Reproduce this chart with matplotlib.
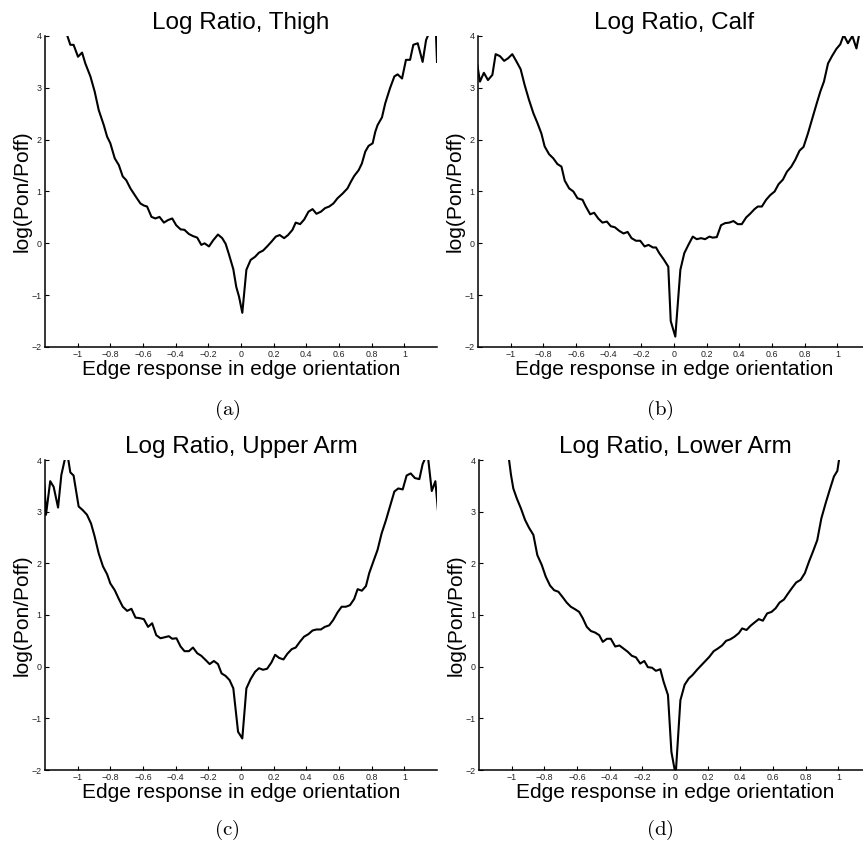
import matplotlib
matplotlib.use("Agg")
import matplotlib.pyplot as plt

plt.rcParams['font.family'] = ['Liberation Sans', 'DejaVu Sans']

titles = ["Log Ratio, Thigh", "Log Ratio, Calf", "Log Ratio, Upper Arm", "Log Ratio, Lower Arm"]
captions = ["(a)", "(b)", "(c)", "(d)"]
xlabel_text = "Edge response in edge orientation"
ylabel_text = "log(Pon/Poff)"
xticks = [-1, -0.8, -0.6, -0.4, -0.2, 0, 0.2, 0.4, 0.6, 0.8, 1]
xticklabels = ["\u22121", "\u22120.8", "\u22120.6", "\u22120.4", "\u22120.2", "0", "0.2", "0.4", "0.6", "0.8", "1"]
yticks = [-2, -1, 0, 1, 2, 3, 4]
yticklabels = ["\u22122", "\u22121", "0", "1", "2", "3", "4"]

x_thigh = [-1.085, -1.065, -1.045, -1.025, -0.998, -0.973, -0.953, -0.922, -0.896, -0.871, -0.84, -0.82, -0.80,
           -0.773, -0.748, -0.724, -0.703, -0.677, -0.646, -0.616, -0.595, -0.575, -0.548, -0.524, -0.499, -0.472,
           -0.446, -0.421, -0.397, -0.37, -0.346, -0.319, -0.294, -0.268, -0.243, -0.223, -0.196, -0.17, -0.141,
           -0.115, -0.094, -0.074, -0.047, -0.029, -0.012, 0.008, 0.033, 0.059, 0.086, 0.11, 0.135, 0.16, 0.186,
           0.213, 0.237, 0.264, 0.288, 0.315, 0.335, 0.362, 0.387, 0.413, 0.438, 0.462, 0.489, 0.515, 0.54, 0.566,
           0.591, 0.622, 0.652, 0.673, 0.693, 0.72, 0.74, 0.761, 0.781, 0.806, 0.822, 0.836, 0.863, 0.883, 0.912,
           0.939, 0.959, 0.986, 1.01, 1.035, 1.055, 1.082, 1.112, 1.133, 1.15, 1.165, 1.185, 1.2]
y_thigh = [4.3, 4.02, 3.83, 3.83, 3.60, 3.68, 3.47, 3.22, 2.93, 2.57, 2.28, 2.06, 1.93,
           1.64, 1.51, 1.29, 1.22, 1.06, 0.91, 0.77, 0.73, 0.71, 0.51, 0.48, 0.51, 0.40,
           0.45, 0.48, 0.35, 0.27, 0.26, 0.18, 0.14, 0.11, -0.03, 0.0, -0.06, 0.06, 0.17,
           0.10, -0.01, -0.21, -0.50, -0.84, -1.03, -1.34, -0.51, -0.32, -0.26, -0.18, -0.14, -0.06, 0.03,
           0.13, 0.16, 0.10, 0.16, 0.26, 0.40, 0.37, 0.46, 0.61, 0.66, 0.57, 0.61, 0.68, 0.71, 0.77,
           0.87, 0.96, 1.06, 1.19, 1.30, 1.41, 1.54, 1.77, 1.88, 1.93, 2.15, 2.28, 2.43, 2.70, 2.99,
           3.22, 3.26, 3.18, 3.54, 3.54, 3.83, 3.86, 3.50, 3.92, 4.05, 4.6, 4.8, 3.5]

x_calf = [-1.22, -1.204, -1.188, -1.164, -1.139, -1.112, -1.092, -1.065, -1.04, -1.016, -0.99, -0.963, -0.939,
          -0.914, -0.888, -0.861, -0.836, -0.812, -0.792, -0.765, -0.739, -0.714, -0.689, -0.669, -0.642, -0.616,
          -0.591, -0.56, -0.54, -0.513, -0.489, -0.464, -0.438, -0.411, -0.387, -0.362, -0.335, -0.309, -0.284,
          -0.26, -0.233, -0.207, -0.18, -0.156, -0.129, -0.11, -0.09, -0.063, -0.035, -0.02, 0.008, 0.039, 0.063,
          0.088, 0.115, 0.139, 0.166, 0.19, 0.217, 0.237, 0.262, 0.288, 0.313, 0.339, 0.364, 0.39, 0.415, 0.442,
          0.466, 0.493, 0.513, 0.538, 0.564, 0.589, 0.616, 0.64, 0.667, 0.691, 0.718, 0.742, 0.769, 0.793, 0.82,
          0.845, 0.871, 0.896, 0.918, 0.943, 0.967, 0.994, 1.018, 1.039, 1.065, 1.092, 1.117, 1.133, 1.16]
y_calf = [3.6, 3.44, 3.12, 3.29, 3.15, 3.25, 3.65, 3.61, 3.52, 3.57, 3.65, 3.50, 3.36,
          3.05, 2.77, 2.51, 2.32, 2.12, 1.87, 1.72, 1.64, 1.53, 1.48, 1.21, 1.06, 1.00,
          0.87, 0.84, 0.71, 0.56, 0.59, 0.48, 0.40, 0.42, 0.33, 0.31, 0.24, 0.19, 0.22,
          0.10, 0.05, 0.05, -0.06, -0.03, -0.08, -0.08, -0.19, -0.31, -0.45, -1.5, -1.8, -0.51, -0.19,
          -0.03, 0.13, 0.08, 0.10, 0.08, 0.13, 0.11, 0.12, 0.35, 0.39, 0.40, 0.43, 0.37, 0.37, 0.50,
          0.57, 0.66, 0.71, 0.71, 0.84, 0.93, 1.00, 1.14, 1.23, 1.38, 1.48, 1.61, 1.79, 1.86, 2.12,
          2.39, 2.67, 2.93, 3.12, 3.47, 3.61, 3.75, 3.84, 4.02, 3.86, 4.0, 3.76, 4.02, 4.3]

x_upper = [-1.215, -1.202, -1.194, -1.168, -1.147, -1.12, -1.10, -1.076, -1.062, -1.045, -1.025, -0.994, -0.969,
           -0.943, -0.918, -0.896, -0.871, -0.845, -0.82, -0.8, -0.773, -0.748, -0.724, -0.697, -0.671, -0.646,
           -0.622, -0.595, -0.569, -0.544, -0.519, -0.493, -0.466, -0.442, -0.421, -0.395, -0.37, -0.346, -0.319,
           -0.294, -0.268, -0.243, -0.217, -0.192, -0.166, -0.141, -0.119, -0.094, -0.07, -0.047, -0.018, 0.008,
           0.033, 0.059, 0.086, 0.11, 0.135, 0.16, 0.186, 0.209, 0.233, 0.26, 0.284, 0.311, 0.335, 0.36, 0.386,
           0.413, 0.438, 0.462, 0.489, 0.513, 0.54, 0.564, 0.591, 0.616, 0.642, 0.667, 0.693, 0.714, 0.74, 0.765,
           0.785, 0.812, 0.836, 0.861, 0.888, 0.912, 0.939, 0.963, 0.99, 1.014, 1.039, 1.065, 1.092, 1.112, 1.13,
           1.145, 1.168, 1.19, 1.21]
y_upper = [3.8, 3.45, 2.94, 3.59, 3.48, 3.08, 3.71, 4.05, 4.1, 3.76, 3.70, 3.10, 3.03,
           2.94, 2.77, 2.52, 2.19, 1.94, 1.79, 1.61, 1.48, 1.31, 1.16, 1.08, 1.12, 0.95,
           0.94, 0.92, 0.77, 0.84, 0.61, 0.55, 0.57, 0.59, 0.54, 0.55, 0.39, 0.30, 0.30,
           0.37, 0.26, 0.21, 0.13, 0.05, 0.11, 0.05, -0.13, -0.18, -0.26, -0.42, -1.26, -1.39,
           -0.42, -0.24, -0.10, -0.03, -0.06, -0.04, 0.08, 0.23, 0.17, 0.14, 0.25, 0.34, 0.37, 0.48, 0.58,
           0.63, 0.70, 0.72, 0.72, 0.77, 0.80, 0.90, 1.05, 1.16, 1.16, 1.19, 1.31, 1.50, 1.47, 1.56,
           1.81, 2.05, 2.26, 2.58, 2.84, 3.10, 3.39, 3.45, 3.43, 3.70, 3.74, 3.65, 3.63, 3.92, 4.05,
           4.05, 3.40, 3.59, 2.87]

x_lower = [-1.04, -1.016, -1.004, -0.99, -0.969, -0.943, -0.918, -0.894, -0.867, -0.843, -0.816, -0.791, -0.765,
           -0.74, -0.714, -0.689, -0.663, -0.638, -0.611, -0.587, -0.565, -0.54, -0.515, -0.489, -0.464, -0.442,
           -0.417, -0.393, -0.366, -0.34, -0.315, -0.29, -0.264, -0.239, -0.213, -0.188, -0.166, -0.141, -0.117,
           -0.09, -0.07, -0.043, -0.022, 0.004, 0.033, 0.059, 0.084, 0.108, 0.135, 0.162, 0.186, 0.21, 0.237,
           0.262, 0.288, 0.313, 0.339, 0.364, 0.391, 0.411, 0.438, 0.462, 0.489, 0.513, 0.538, 0.564, 0.591,
           0.616, 0.64, 0.667, 0.693, 0.718, 0.742, 0.769, 0.795, 0.82, 0.845, 0.871, 0.896, 0.922, 0.947, 0.973,
           0.994, 1.004, 1.03]
y_lower = [4.6, 4.0, 3.71, 3.45, 3.26, 3.06, 2.84, 2.69, 2.55, 2.16, 1.97, 1.74, 1.57,
           1.48, 1.45, 1.35, 1.24, 1.16, 1.11, 1.06, 0.94, 0.77, 0.69, 0.66, 0.61, 0.48,
           0.54, 0.54, 0.39, 0.41, 0.35, 0.29, 0.21, 0.18, 0.06, 0.11, -0.01, -0.02, -0.08,
           -0.05, -0.29, -0.55, -1.65, -2.1, -0.65, -0.35, -0.23, -0.16, -0.06, 0.03, 0.11, 0.19, 0.30,
           0.35, 0.41, 0.50, 0.53, 0.58, 0.65, 0.74, 0.71, 0.79, 0.86, 0.92, 0.89, 1.03, 1.06,
           1.13, 1.24, 1.30, 1.42, 1.53, 1.63, 1.68, 1.81, 2.03, 2.23, 2.45, 2.87, 3.16, 3.42, 3.68,
           3.79, 4.0, 4.6]

series = [(x_thigh, y_thigh), (x_calf, y_calf), (x_upper, y_upper), (x_lower, y_lower)]

W, H = 863, 850
fig = plt.figure(figsize=(W / 100, H / 100), dpi=100)

# axes boxes in pixels: left, top, right, bottom
boxes = [(45, 36, 437, 347), (478, 36, 870, 347), (45, 460, 437, 770), (479, 460, 871, 770)]
cap_pos = [(227, 410), (660, 410), (227, 830), (660, 830)]

for i, ((xs, ys), (l, t, r, b)) in enumerate(zip(series, boxes)):
    ax = fig.add_axes([l / W, 1 - b / H, (r - l) / W, (b - t) / H])
    ax.plot(xs, ys, color='black', lw=1.5)
    ax.set_xlim(-1.2, 1.2)
    ax.set_ylim(-2, 4)
    ax.spines['top'].set_visible(False)
    ax.spines['right'].set_visible(False)
    for s in ('left', 'bottom'):
        ax.spines[s].set_linewidth(1.1)
    ax.set_xticks(xticks)
    ax.set_xticklabels(xticklabels)
    ax.set_yticks(yticks)
    ax.set_yticklabels(yticklabels)
    ax.tick_params(direction='in', length=3, width=0.8, labelsize=6.4,
                   labelcolor='#222222', pad=2.5)
    ax.set_title(titles[i], fontsize=17.5, pad=5)
    ax.set_xlabel(xlabel_text, fontsize=15)
    ax.xaxis.set_label_coords(0.5, -0.042)
    ax.set_ylabel(ylabel_text, fontsize=15, va='center')
    ax.yaxis.set_label_coords(-0.058, 0.5)
    cx, cy = cap_pos[i]
    fig.text(cx / W, 1 - cy / H, r'$(\mathrm{' + captions[i][1] + r'})$', fontsize=15,
             ha='center', va='center', math_fontfamily='cm')

fig.savefig('out.png', dpi=100)
